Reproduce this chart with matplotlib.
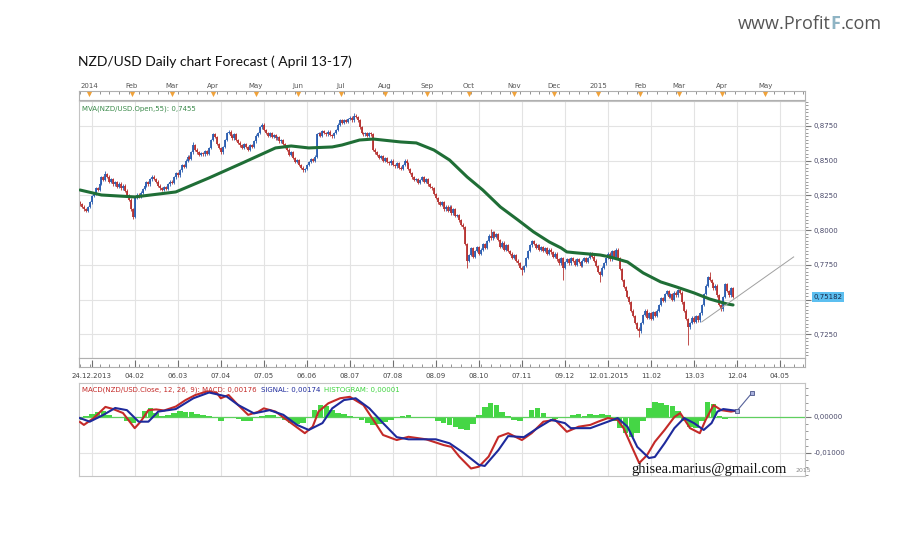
import numpy as np
import matplotlib.pyplot as plt
from matplotlib.ticker import MultipleLocator

W, H = 900, 540


def box(x0, y0, x1, y1):
    # pixel box -> figure fraction [left, bottom, width, height]
    return [x0 / W, 1 - y1 / H, (x1 - x0) / W, (y1 - y0) / H]


def fx(x):
    return x / W


def fy(y):
    return 1 - y / H


# daily closes, NZD/USD, one per trading bar
closes = [
    0.8185, 0.8170, 0.8150, 0.8140, 0.8165, 0.8200, 0.8245,
    0.8260, 0.8305, 0.8290, 0.8335, 0.8380, 0.8360, 0.8405, 0.8385, 0.8350,
    0.8370, 0.8330, 0.8345, 0.8310, 0.8335, 0.8300, 0.8320, 0.8285,
    0.8250, 0.8220, 0.8150, 0.8095,
    0.8230, 0.8255, 0.8240, 0.8270, 0.8295,
    0.8320, 0.8345, 0.8330, 0.8365, 0.8385, 0.8370, 0.8350,
    0.8320, 0.8300, 0.8290, 0.8310, 0.8295,
    0.8330, 0.8350, 0.8340, 0.8380, 0.8410, 0.8395,
    0.8430, 0.8470, 0.8455, 0.8500, 0.8530, 0.8515, 0.8560, 0.8610, 0.8580,
    0.8560, 0.8540, 0.8555, 0.8545, 0.8570, 0.8550, 0.8590,
    0.8650, 0.8690, 0.8670,
    0.8620, 0.8590, 0.8560, 0.8600,
    0.8650, 0.8700, 0.8710,
    0.8680, 0.8660, 0.8690, 0.8650, 0.8630,
    0.8610, 0.8590, 0.8620, 0.8600, 0.8580, 0.8610, 0.8600,
    0.8640, 0.8680, 0.8700, 0.8740, 0.8760,
    0.8720, 0.8700, 0.8680, 0.8700, 0.8670, 0.8685, 0.8660, 0.8670, 0.8640, 0.8650, 0.8620,
    0.8600, 0.8580, 0.8540, 0.8560, 0.8520, 0.8490, 0.8505, 0.8470, 0.8450, 0.8430, 0.8440,
    0.8470, 0.8490, 0.8510, 0.8500, 0.8530,
    0.8690,
    0.8700, 0.8680, 0.8715, 0.8700, 0.8690, 0.8710, 0.8685, 0.8675, 0.8700, 0.8720,
    0.8760, 0.8790, 0.8770, 0.8790, 0.8780, 0.8800, 0.8810, 0.8790, 0.8825,
    0.8815, 0.8790, 0.8740, 0.8700, 0.8690,
    0.8700, 0.8680, 0.8700, 0.8690, 0.8580,
    0.8560, 0.8540, 0.8520, 0.8535, 0.8500,
    0.8520, 0.8490, 0.8480, 0.8500, 0.8470, 0.8460, 0.8480, 0.8450,
    0.8440, 0.8470, 0.8500, 0.8480,
    0.8440, 0.8410, 0.8380, 0.8360, 0.8370, 0.8340,
    0.8360, 0.8380, 0.8350, 0.8370, 0.8330, 0.8310, 0.8300,
    0.8260, 0.8230, 0.8200, 0.8180, 0.8200, 0.8150, 0.8170,
    0.8140, 0.8170, 0.8120, 0.8150, 0.8100, 0.8110,
    0.8070, 0.8040, 0.8020,
    0.7900, 0.7780, 0.7820,
    0.7870, 0.7810, 0.7850, 0.7880, 0.7830, 0.7860, 0.7900, 0.7870,
    0.7920, 0.7960, 0.7940, 0.7985, 0.7950,
    0.7970, 0.7930, 0.7880, 0.7910, 0.7860, 0.7890, 0.7850, 0.7830, 0.7800, 0.7820,
    0.7780, 0.7760, 0.7730, 0.7710, 0.7740,
    0.7800, 0.7850, 0.7890, 0.7920, 0.7900,
    0.7870, 0.7890, 0.7860, 0.7880, 0.7850, 0.7870, 0.7830, 0.7860, 0.7840,
    0.7810, 0.7830, 0.7790, 0.7760, 0.7800, 0.7730, 0.7770,
    0.7790, 0.7760, 0.7800, 0.7780, 0.7750, 0.7790, 0.7770, 0.7740, 0.7780, 0.7800, 0.7770,
    0.7800, 0.7830, 0.7810, 0.7780,
    0.7740, 0.7700, 0.7680, 0.7730, 0.7760,
    0.7800, 0.7830, 0.7790, 0.7850, 0.7810, 0.7860, 0.7800,
    0.7720, 0.7640, 0.7590, 0.7560,
    0.7520, 0.7480, 0.7420, 0.7380, 0.7330, 0.7290, 0.7270,
    0.7330, 0.7390, 0.7420,
    0.7370, 0.7400, 0.7360, 0.7410, 0.7380, 0.7420,
    0.7460, 0.7510, 0.7490, 0.7540,
    0.7560, 0.7520, 0.7540, 0.7500, 0.7550, 0.7530, 0.7570, 0.7550,
    0.7480, 0.7420, 0.7360, 0.7300, 0.7330,
    0.7370, 0.7340, 0.7380, 0.7350, 0.7400,
    0.7460, 0.7540, 0.7600, 0.7660,
    0.7640,
    0.7620, 0.7580, 0.7600,
    0.7530, 0.7460, 0.7430,
    0.7520, 0.7610,
    0.7560, 0.7530, 0.7580, 0.7518,
]
first_open = 0.8200

# a few long wicks seen on the chart (bar -> price)
extra_high = {13: 0.8425, 58: 0.8635, 93: 0.8772, 140: 0.8840, 322: 0.7699, 210: 0.8010}
extra_low = {27: 0.8080, 114: 0.8420, 198: 0.7728, 226: 0.7677, 247: 0.7641,
             266: 0.7627, 286: 0.7231, 311: 0.7175}

# MVA(Open, 55)
ma_bars = [0, 11, 28, 49, 66, 83, 100, 108, 117, 129, 134, 143, 150, 164, 172, 181,
           189, 198, 206, 215, 224, 232, 240, 246, 249, 254, 266, 271, 280, 288, 297,
           305, 314, 322, 331, 334]
ma_vals = [0.8289, 0.8253, 0.8239, 0.8275, 0.8376, 0.8483, 0.8592, 0.8606, 0.8592,
           0.8599, 0.8613, 0.8649, 0.8656, 0.8635, 0.8628, 0.8577, 0.8505, 0.8383,
           0.8289, 0.8167, 0.8073, 0.7987, 0.7915, 0.7872, 0.7843, 0.7836, 0.7821,
           0.7807, 0.7771, 0.7692, 0.7627, 0.7591, 0.7548, 0.7504, 0.7468, 0.7461]

trend_bars = [318, 365]
trend_vals = [0.7339, 0.7807]
last_price = 0.75182

# MACD(12, 26, 9)
macd_bars = [0, 2, 7, 13, 17, 22, 28, 31, 35, 39, 43, 49, 54, 59, 65, 70, 72, 76, 80,
             86, 91, 94, 100, 107, 115, 119, 122, 127, 133, 138, 145, 150, 155, 162,
             168, 177, 186, 190, 194, 200, 204, 209, 214, 219, 226, 231, 237, 243, 249,
             255, 261, 265, 270, 275, 278, 283, 286, 290, 294, 299, 304, 307, 312, 317,
             320, 324, 328, 333, 335]
macd_vals = [-0.0014, -0.0022, -0.0003, 0.0028, 0.0022, 0.0011, -0.0031, -0.0013,
             0.0019, 0.0021, 0.0018, 0.0029, 0.0047, 0.0061, 0.0071, 0.0067, 0.0052,
             0.0061, 0.0038, 0.0006, 0.0014, 0.0024, 0.0015, -0.0013, -0.0045, -0.0027,
             0.0015, 0.0038, 0.0052, 0.0056, 0.0033, -0.0008, -0.0050, -0.0064, -0.0055,
             -0.0062, -0.0078, -0.0083, -0.0110, -0.0143, -0.0138, -0.0110, -0.0055,
             -0.0045, -0.0064, -0.0045, -0.0013, -0.0008, -0.0041, -0.0027, -0.0022,
             -0.0013, -0.0003, -0.0008, -0.0031, -0.0092, -0.0128, -0.0106, -0.0069,
             -0.0036, 0.0000, 0.0011, -0.0031, -0.0045, -0.0008, 0.0033, 0.0019, 0.0015,
             0.0017]
signal_bars = [0, 5, 12, 18, 24, 30, 35, 40, 49, 58, 66, 75, 81, 89, 97, 104, 111, 117,
               124, 129, 135, 141, 148, 155, 162, 168, 182, 189, 196, 204, 207, 214, 219,
               227, 234, 241, 248, 251, 261, 270, 275, 280, 285, 291, 294, 299, 304, 309,
               314, 319, 323, 326, 329, 336]
signal_vals = [-0.0003, -0.0013, 0.0006, 0.0025, 0.0019, -0.0013, -0.0013, 0.0015,
               0.0022, 0.0052, 0.0068, 0.0057, 0.0033, 0.0010, 0.0019, 0.0006, -0.0022,
               -0.0036, -0.0017, 0.0024, 0.0047, 0.0052, 0.0024, -0.0017, -0.0056,
               -0.0062, -0.0062, -0.0073, -0.0099, -0.0133, -0.0136, -0.0092, -0.0053,
               -0.0056, -0.0031, -0.0008, -0.0017, -0.0031, -0.0031, -0.0013, -0.0003,
               -0.0027, -0.0083, -0.0114, -0.0111, -0.0073, -0.0031, -0.0003, -0.0017,
               -0.0036, -0.0017, 0.0015, 0.0022, 0.0017]
# histogram, one value every 3 bars starting at bar 0
hist_vals = [
    -0.0008, 0.0003, 0.0009, 0.0015, 0.0016, 0.0006, 0.0000, -0.0004, -0.0012, -0.0017,
    -0.0003, 0.0018, 0.0025, 0.0012, 0.0004, 0.0006, 0.0012, 0.0016, 0.0015, 0.0013,
    0.0009, 0.0005, 0.0002, -0.0004, -0.0010, -0.0003, -0.0002, -0.0006, -0.0010, -0.0012,
    -0.0004, 0.0003, 0.0005, 0.0005, 0.0001, -0.0008, -0.0016, -0.0020, -0.0017, -0.0002,
    0.0020, 0.0033, 0.0030, 0.0020, 0.0012, 0.0007, 0.0003, 0.0000, -0.0008, -0.0016,
    -0.0022, -0.0020, -0.0015, -0.0008, -0.0002, 0.0004, 0.0005, 0.0001, -0.0002, -0.0001,
    -0.0003, -0.0010, -0.0016, -0.0022, -0.0028, -0.0033, -0.0036, -0.0020, 0.0006, 0.0028,
    0.0039, 0.0034, 0.0015, 0.0002, -0.0008, -0.0010, -0.0002, 0.0020, 0.0026, 0.0010,
    -0.0003, -0.0006, -0.0004, 0.0000, 0.0005, 0.0007, 0.0004, 0.0008, 0.0006, 0.0009,
    0.0005, -0.0012, -0.0030, -0.0045, -0.0056, -0.0045, -0.0010, 0.0025, 0.0042, 0.0040,
    0.0034, 0.0030, 0.0018, -0.0010, -0.0028, -0.0031, -0.0012, 0.0042, 0.0035, 0.0002,
    -0.0005, -0.0002,
]
fc_bars = [336, 343.7]
fc_vals = [0.0017, 0.0067]

grid_bars = [6, 28, 50, 72, 94, 116, 138, 160, 182, 204, 226, 248, 270, 292, 314, 336, 358]
date_labels = ['24.12.2013', '04.02', '06.03', '07.04', '07.05', '06.06', '08.07', '07.08',
               '08.09', '08.10', '07.11', '09.12', '12.01.2015', '11.02', '13.03', '12.04',
               '04.05']
month_bars = [4.6, 26.6, 47, 68, 90, 111.5, 133.5, 156, 177.5, 199, 222, 242.5, 265,
              286.5, 306.5, 328.5, 350.5]
month_labels = ['2014', 'Feb', 'Mar', 'Apr', 'May', 'Jun', 'Jul', 'Aug', 'Sep', 'Oct',
                'Nov', 'Dec', '2015', 'Feb', 'Mar', 'Apr', 'May']
price_ticks = [0.7250, 0.7500, 0.7750, 0.8000, 0.8250, 0.8500, 0.8750]

BLUE = '#2a5db0'
RED = '#b73230'
GREEN = '#1f6e36'
XMIN, XMAX = -0.5, 370.8

fig = plt.figure(figsize=(9, 5.4), dpi=100)
fig.patch.set_facecolor('white')

# ---- main price panel
ax = fig.add_axes(box(79, 101, 805, 358))
ax.set_xlim(XMIN, XMAX)
ax.set_ylim(0.7079, 0.8930)
ax.set_axisbelow(True)
ax.set_xticks(grid_bars)
ax.tick_params(axis='x', length=0, labelbottom=False)
ax.yaxis.tick_right()
ax.set_yticks(price_ticks)
ax.set_yticklabels(['' if t == 0.75 else f'{t:.4f}'.replace('.', ',') for t in price_ticks])
ax.yaxis.set_minor_locator(MultipleLocator(0.0025))
ax.tick_params(axis='y', which='major', direction='out', length=4, color='#777777',
               labelsize=5, labelcolor='#4a4a6a', pad=2)
ax.tick_params(axis='y', which='minor', direction='out', length=2, color='#888888')
ax.grid(color='#e3e3e3', lw=0.8)
for s in ax.spines.values():
    s.set_color('#c4c4c4')
    s.set_linewidth(0.8)

c = np.array(closes)
idx = np.arange(len(c))
o = np.r_[first_open, c[:-1]]
body_lo = np.minimum(o, c)
body_hi = np.maximum(o, c)
wick = 0.0009
lows = body_lo - wick
highs = body_hi + wick
for k, v in extra_low.items():
    lows[k] = v
for k, v in extra_high.items():
    highs[k] = v
cols = np.where(c >= o, BLUE, RED)
ax.vlines(idx, lows, highs, colors=cols, lw=0.6, zorder=2)
ax.vlines(idx, body_lo, body_hi, colors=cols, lw=1.3, zorder=2)

ax.plot(ma_bars, ma_vals, color=GREEN, lw=2.2, zorder=3, solid_capstyle='round')
ax.plot(trend_bars, trend_vals, color='#a0a0a0', lw=0.7, zorder=3)

ax.annotate(f'{last_price:.5f}'.replace('.', ','), xy=(1, last_price),
            xycoords=('axes fraction', 'data'), xytext=(6, 0), textcoords='offset points',
            va='center', ha='left', fontsize=5, color='#1a2a4a', annotation_clip=False,
            bbox=dict(facecolor='#5cbff0', edgecolor='none', pad=1.2))

fig.text(fx(82), fy(109), 'MVA(NZD/USD.Open,55): 0,7455', fontsize=5, color='#3a8a4a',
         va='center', ha='left')

# ---- top month ruler
ax_t = fig.add_axes(box(79, 91, 805, 100))
ax_t.set_xlim(XMIN, XMAX)
ax_t.set_ylim(0, 1)
ax_t.set_yticks([])
ax_t.xaxis.tick_top()
ax_t.set_xticks(month_bars)
ax_t.set_xticklabels(month_labels)
ax_t.set_xticks(np.arange(0, 371, 5), minor=True)
ax_t.tick_params(axis='x', which='major', length=0, pad=1.5, labelsize=5, labelcolor='#555555')
ax_t.tick_params(axis='x', which='minor', direction='in', length=2.5, color='#808080',
                 top=True, bottom=False)
ax_t.scatter(month_bars, [0.62] * len(month_bars), marker='v', s=14, color='#f0a23a',
             zorder=3, lw=0)
for s in ax_t.spines.values():
    s.set_color('#b0b0b0')
    s.set_linewidth(0.8)

# ---- date strip below the price panel
ax_b = fig.add_axes(box(79, 358, 805, 367))
ax_b.set_xlim(XMIN, XMAX)
ax_b.set_ylim(0, 1)
ax_b.set_yticks([])
ax_b.set_xticks(grid_bars)
ax_b.set_xticklabels(date_labels)
ax_b.set_xticks(np.arange(0, 371, 5), minor=True)
ax_b.tick_params(axis='x', which='major', direction='in', length=5, color='#707070',
                 labelsize=5, labelcolor='#444444', pad=4)
ax_b.tick_params(axis='x', which='minor', direction='in', length=2.5, color='#808080')
for s in ax_b.spines.values():
    s.set_color('#b0b0b0')
    s.set_linewidth(0.8)

# ---- MACD panel
ax_m = fig.add_axes(box(79, 383, 805, 476))
ax_m.set_xlim(XMIN, XMAX)
ax_m.set_ylim(-0.01639, 0.00944)
ax_m.set_axisbelow(True)
ax_m.set_xticks(grid_bars)
ax_m.tick_params(axis='x', length=0, labelbottom=False)
ax_m.yaxis.tick_right()
ax_m.set_yticks([0.0, -0.01])
ax_m.set_yticklabels(['0,00000', '-0,01000'])
ax_m.yaxis.set_minor_locator(MultipleLocator(0.002))
ax_m.tick_params(axis='y', which='major', direction='out', length=4, color='#777777',
                 labelsize=5, labelcolor='#4a4a6a', pad=2)
ax_m.tick_params(axis='y', which='minor', direction='out', length=2, color='#888888')
ax_m.grid(color='#e3e3e3', lw=0.8)
for s in ax_m.spines.values():
    s.set_color('#c4c4c4')
    s.set_linewidth(0.8)

hist_bars = np.arange(len(hist_vals)) * 3
ax_m.bar(hist_bars, hist_vals, width=2.9, color='#45d645', lw=0, zorder=2)
ax_m.axhline(0, color='#5fcf5f', lw=0.9, zorder=2.5)
ax_m.plot(macd_bars, macd_vals, color='#c42a28', lw=1.5, zorder=3)
ax_m.plot(signal_bars, signal_vals, color='#1e2a9c', lw=1.5, zorder=4)
ax_m.plot(fc_bars, fc_vals, color='#56629a', lw=0.8, marker='s', ms=3.5,
          mfc='#a8b0dc', mec='#4a5488', mew=0.6, zorder=5)

fig.text(fx(82), fy(390), 'MACD(NZD/USD.Close, 12, 26, 9): MACD: 0,00176', fontsize=5,
         color='#c42a28', va='center', ha='left')
fig.text(fx(261), fy(390), 'SIGNAL: 0,00174', fontsize=5, color='#1e2a9c',
         va='center', ha='left')
fig.text(fx(324), fy(390), 'HISTOGRAM: 0,00001', fontsize=5, color='#3fd43f',
         va='center', ha='left')
fig.text(fx(796), fy(471), '2015', fontsize=4.5, color='#8a8a8a', va='center', ha='left')

# ---- page texts
fig.text(fx(78), fy(62), 'NZD/USD Daily chart Forecast ( April 13-17)', fontsize=10,
         family='Lato', color='#111111', va='center', ha='left')
t1 = fig.text(fx(738), fy(24), 'www.Profit', fontsize=13, family='Open Sans',
              color='#555555', va='center', ha='left')
fig.canvas.draw()
bb = t1.get_window_extent()
t2 = fig.text(bb.x1 / W, fy(24), 'F', fontsize=13, family='Open Sans', color='#8fb4c4',
              va='center', ha='left', fontweight='bold')
bb2 = t2.get_window_extent(renderer=fig.canvas.get_renderer())
fig.text(bb2.x1 / W, fy(24), '.com', fontsize=13, family='Open Sans', color='#555555',
         va='center', ha='left')
fig.text(fx(631), fy(470), 'ghisea.marius@gmail.com', fontsize=10.5, family='Liberation Serif',
         color='#111111', va='center', ha='left')

fig.savefig('out.png', dpi=100)
